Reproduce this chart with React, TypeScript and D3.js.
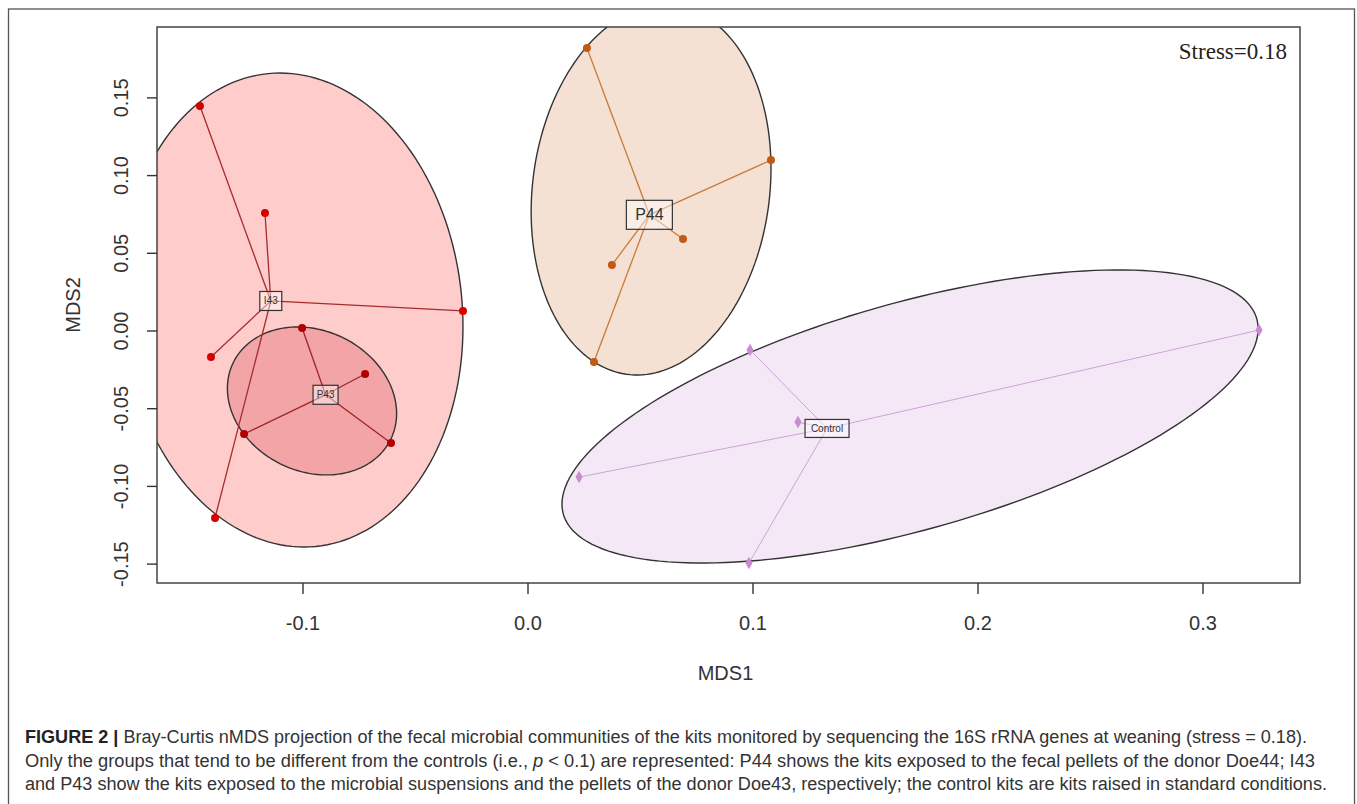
import React, { useEffect, useRef } from 'react';
import * as d3 from 'd3';

// nMDS scores
const groups = ['I43', 'P43', 'P44', 'Control'];
const i43X = [-0.1458, -0.1169, -0.0289, -0.1409, -0.1391];
const i43Y = [0.1448, 0.0759, 0.0129, -0.0167, -0.1203];
const p43X = [-0.1004, -0.0724, -0.0609, -0.1262];
const p43Y = [0.0019, -0.0277, -0.0721, -0.0663];
const p44X = [0.0262, 0.108, 0.0689, 0.0373, 0.0293];
const p44Y = [0.1821, 0.11, 0.0592, 0.0425, -0.02];
const ctrlX = [0.0987, 0.12, 0.0227, 0.0982, 0.3249];
const ctrlY = [-0.0122, -0.0586, -0.094, -0.1493, 0.0006];

// ellipse per group (same order as groups): centre, sd on each axis, correlation
const ellCx = [-0.1049, -0.096, 0.0547, 0.1698];
const ellCy = [0.0135, -0.045, 0.0907, -0.055];
const ellSdX = [0.076, 0.0376, 0.0533, 0.1547];
const ellSdY = [0.1525, 0.0476, 0.119, 0.0943];
const ellR = [-0.07, -0.17, 0.117, 0.598];

const xTicks = [-0.1, 0.0, 0.1, 0.2, 0.3];
const yTicks = [-0.15, -0.1, -0.05, 0.0, 0.05, 0.1, 0.15];
const stressLabel = 'Stress=0.18';

const W = 1357,
  H = 804;
const plot = { left: 157, right: 1300, top: 27, bottom: 583 };

const fills = ['#FFCCCC', '#F2A4A6', '#F5E1D3', '#F5E8F6'];
const lineCols = ['#A62B2B', '#9E2626', '#C97A38', '#CDA3D8'];
const dotCols = ['#D40000', '#B00000', '#C05A14', '#C98BD0'];
const labelSize = [10, 10, 16, 10];
const labelBox = [
  [22, 19],
  [25, 19],
  [46, 29],
  [44, 18],
];

const App = () => {
  const ref = useRef<SVGSVGElement>(null);

  useEffect(() => {
    const svg = d3.select(ref.current);
    svg.selectAll('*').remove();

    const x = d3.scaleLinear().domain([-0.16489, 0.34311]).range([plot.left, plot.right]);
    const y = d3.scaleLinear().domain([-0.16216, 0.19562]).range([plot.bottom, plot.top]);

    const xs = [i43X, p43X, p44X, ctrlX];
    const ys = [i43Y, p43Y, p44Y, ctrlY];

    svg.append('rect').attr('width', W).attr('height', H).attr('fill', '#fff');

    // outer figure frame
    svg
      .append('rect')
      .attr('x', 8.5)
      .attr('y', 9)
      .attr('width', 1346)
      .attr('height', 800)
      .attr('fill', 'none')
      .attr('stroke', '#555')
      .attr('stroke-width', 1.3);

    svg
      .append('clipPath')
      .attr('id', 'plotclip')
      .append('rect')
      .attr('x', plot.left)
      .attr('y', plot.top)
      .attr('width', plot.right - plot.left)
      .attr('height', plot.bottom - plot.top);

    const g = svg.append('g').attr('clip-path', 'url(#plotclip)');

    const line = d3
      .line<[number, number]>()
      .x((d) => x(d[0]))
      .y((d) => y(d[1]))
      .curve(d3.curveLinearClosed);

    const angles = d3.range(0, Math.PI * 2, Math.PI / 90);
    const drawOrder = [0, 2, 3, 1];
    drawOrder.forEach((k) => {
      const r = ellR[k];
      const pts = angles.map(
        (t) =>
          [
            ellCx[k] + ellSdX[k] * Math.cos(t),
            ellCy[k] + ellSdY[k] * (r * Math.cos(t) + Math.sqrt(1 - r * r) * Math.sin(t)),
          ] as [number, number]
      );
      g.append('path')
        .attr('d', line(pts))
        .attr('fill', fills[k])
        .attr('stroke', '#333')
        .attr('stroke-width', 1.4);
    });

    const centroids = groups.map((_, k) => [d3.mean(xs[k])!, d3.mean(ys[k])!]);

    // spider lines
    groups.forEach((_, k) => {
      const [cx, cy] = centroids[k];
      xs[k].forEach((vx, i) => {
        g.append('line')
          .attr('x1', x(cx))
          .attr('y1', y(cy))
          .attr('x2', x(vx))
          .attr('y2', y(ys[k][i]))
          .attr('stroke', lineCols[k])
          .attr('stroke-width', k === 3 ? 1 : 1.3);
      });
    });

    // points
    groups.forEach((_, k) => {
      xs[k].forEach((vx, i) => {
        if (k === 3) {
          g.append('path')
            .attr('d', d3.symbol(d3.symbolDiamond, 45)())
            .attr('transform', `translate(${x(vx)},${y(ys[k][i])})`)
            .attr('fill', dotCols[k]);
        } else {
          g.append('circle')
            .attr('cx', x(vx))
            .attr('cy', y(ys[k][i]))
            .attr('r', 4)
            .attr('fill', dotCols[k]);
        }
      });
    });

    // centroid labels
    groups.forEach((name, k) => {
      const [cx, cy] = centroids[k];
      const [bw, bh] = labelBox[k];
      g.append('rect')
        .attr('x', x(cx) - bw / 2)
        .attr('y', y(cy) - bh / 2)
        .attr('width', bw)
        .attr('height', bh)
        .attr('fill', 'rgba(255,255,255,0.45)')
        .attr('stroke', '#333')
        .attr('stroke-width', 1.2);
      g.append('text')
        .attr('x', x(cx))
        .attr('y', y(cy))
        .attr('dy', '0.35em')
        .attr('text-anchor', 'middle')
        .attr('font-family', 'Liberation Sans, Arial, sans-serif')
        .attr('font-size', labelSize[k])
        .attr('fill', '#333')
        .text(name);
    });

    // plot box
    svg
      .append('rect')
      .attr('x', plot.left)
      .attr('y', plot.top)
      .attr('width', plot.right - plot.left)
      .attr('height', plot.bottom - plot.top)
      .attr('fill', 'none')
      .attr('stroke', '#444')
      .attr('stroke-width', 1.5);

    const font = 'Liberation Sans, Arial, sans-serif';

    // x axis
    const xa = svg.append('g').attr('fill', '#333');
    xTicks.forEach((t) => {
      xa.append('line')
        .attr('x1', x(t))
        .attr('x2', x(t))
        .attr('y1', plot.bottom)
        .attr('y2', plot.bottom + 11)
        .attr('stroke', '#333')
        .attr('stroke-width', 1.4);
      xa.append('text')
        .attr('x', x(t))
        .attr('y', 630)
        .attr('text-anchor', 'middle')
        .attr('font-family', font)
        .attr('font-size', 20)
        .text(t.toFixed(1));
    });

    // y axis
    const ya = svg.append('g').attr('fill', '#333');
    yTicks.forEach((t) => {
      ya.append('line')
        .attr('x1', plot.left - 10)
        .attr('x2', plot.left)
        .attr('y1', y(t))
        .attr('y2', y(t))
        .attr('stroke', '#333')
        .attr('stroke-width', 1.4);
      ya.append('text')
        .attr('transform', `translate(128,${y(t)}) rotate(-90)`)
        .attr('text-anchor', 'middle')
        .attr('font-family', font)
        .attr('font-size', 20)
        .text(t.toFixed(2));
    });

    svg
      .append('text')
      .attr('x', (plot.left + plot.right) / 2 - 3)
      .attr('y', 680)
      .attr('text-anchor', 'middle')
      .attr('font-family', font)
      .attr('font-size', 20)
      .attr('fill', '#333')
      .text('MDS1');

    svg
      .append('text')
      .attr('transform', `translate(80,${(plot.top + plot.bottom) / 2}) rotate(-90)`)
      .attr('text-anchor', 'middle')
      .attr('font-family', font)
      .attr('font-size', 20)
      .attr('fill', '#333')
      .text('MDS2');

    svg
      .append('text')
      .attr('x', 1287)
      .attr('y', 59)
      .attr('text-anchor', 'end')
      .attr('font-family', 'Liberation Serif, Times New Roman, serif')
      .attr('font-size', 23)
      .attr('fill', '#222')
      .text(stressLabel);

    // caption
    const cap = svg
      .append('g')
      .attr('font-family', font)
      .attr('font-size', 18)
      .attr('fill', '#333');

    const l1 = cap.append('text').attr('x', 25).attr('y', 743).attr('textLength', 1282).attr('lengthAdjust', 'spacingAndGlyphs');
    l1.append('tspan').attr('font-weight', 'bold').attr('fill', '#222').text('FIGURE 2 |');
    l1.append('tspan').text(
      ' Bray-Curtis nMDS projection of the fecal microbial communities of the kits monitored by sequencing the 16S rRNA genes at weaning (stress = 0.18).'
    );

    const l2 = cap.append('text').attr('x', 25).attr('y', 767).attr('textLength', 1290).attr('lengthAdjust', 'spacingAndGlyphs');
    l2.append('tspan').text('Only the groups that tend to be different from the controls (i.e., ');
    l2.append('tspan').attr('font-style', 'italic').text('p');
    l2.append('tspan').text(
      ' < 0.1) are represented: P44 shows the kits exposed to the fecal pellets of the donor Doe44; I43'
    );

    cap
      .append('text')
      .attr('x', 25)
      .attr('y', 790)
      .attr('textLength', 1302)
      .attr('lengthAdjust', 'spacingAndGlyphs')
      .text(
        'and P43 show the kits exposed to the microbial suspensions and the pellets of the donor Doe43, respectively; the control kits are kits raised in standard conditions.'
      );
  }, []);

  return (
    <svg
      ref={ref}
      width={W}
      height={H}
      style={{ position: 'absolute', left: 0, top: 0, display: 'block' }}
    />
  );
};

export default App;
